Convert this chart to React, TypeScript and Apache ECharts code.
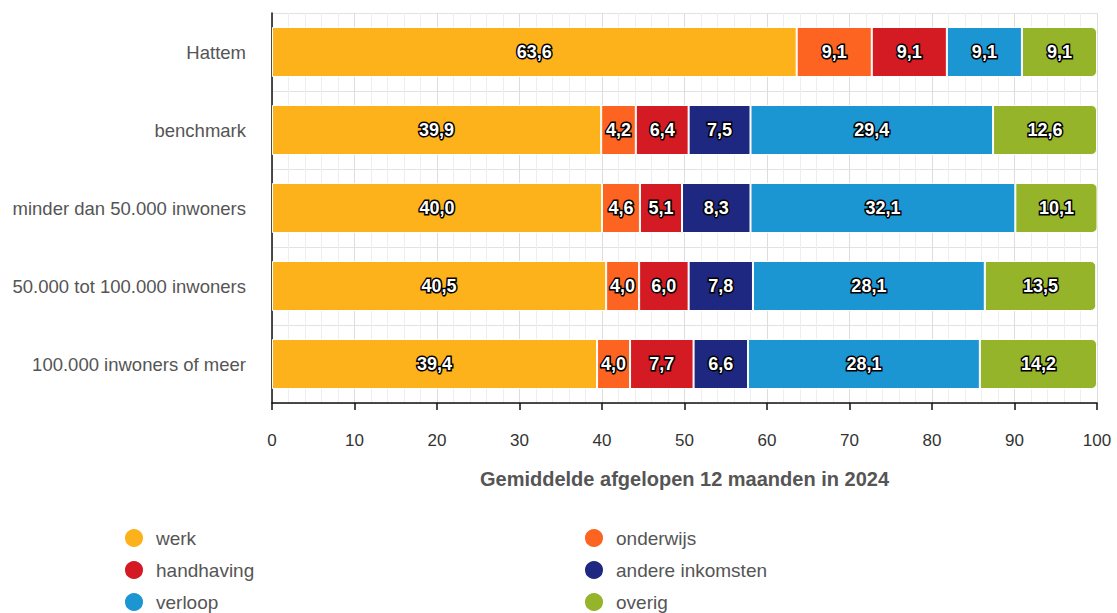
import React, { useEffect, useRef } from "react";
import * as echarts from "echarts";

const categories = [
  "Hattem",
  "benchmark",
  "minder dan 50.000 inwoners",
  "50.000 tot 100.000 inwoners",
  "100.000 inwoners of meer",
];
const werk = [63.6, 39.9, 40.0, 40.5, 39.4];
const onderwijs = [9.1, 4.2, 4.6, 4.0, 4.0];
const handhaving = [9.1, 6.4, 5.1, 6.0, 7.7];
const andereInkomsten = [null, 7.5, 8.3, 7.8, 6.6];
const verloop = [9.1, 29.4, 32.1, 28.1, 28.1];
const overig = [9.1, 12.6, 10.1, 13.5, 14.2];
const xTicks = [0, 10, 20, 30, 40, 50, 60, 70, 80, 90, 100];

const seriesDefs = [
  { name: "werk", data: werk, color: "#FDB21C" },
  { name: "onderwijs", data: onderwijs, color: "#FE6421" },
  { name: "handhaving", data: handhaving, color: "#D41A22" },
  { name: "andere inkomsten", data: andereInkomsten, color: "#1F2881" },
  { name: "verloop", data: verloop, color: "#1C96D3" },
  { name: "overig", data: overig, color: "#95B42A" },
];

export default function App() {
  const ref = useRef<HTMLDivElement>(null);
  useEffect(() => {
    if (!ref.current) return;
    const chart = echarts.init(ref.current, undefined, { renderer: "svg" });
    const font = "'Liberation Sans', Arial, sans-serif";
    const legendCommon = {
      orient: "vertical",
      top: 527,
      height: 120,
      padding: 0,
      icon: "circle",
      itemWidth: 20,
      itemHeight: 20,
      itemGap: 10,
      textStyle: { color: "#555", fontSize: 19, lineHeight: 22, fontFamily: font, padding: [0, 0, 0, 7] },
    };
    chart.setOption({
      animation: false,
      textStyle: { fontFamily: font },
      grid: { left: 272, right: 20, top: 13, bottom: 210 },
      xAxis: {
        type: "value",
        min: xTicks[0],
        max: xTicks[xTicks.length - 1],
        interval: 10,
        name: "Gemiddelde afgelopen 12 maanden in 2024",
        nameLocation: "middle",
        nameGap: 66,
        nameTextStyle: { color: "#555", fontSize: 20, fontWeight: "bold", fontFamily: font },
        axisLine: { show: true, lineStyle: { color: "#111", width: 1.5 } },
        axisTick: { show: true, length: 7, lineStyle: { color: "#111", width: 1.5 } },
        axisLabel: { color: "#333", fontSize: 17, margin: 29, fontFamily: font },
        splitLine: { show: true, lineStyle: { color: "#dddddd", width: 1 } },
        minorTick: { show: false, splitNumber: 5 },
        minorSplitLine: { show: true, lineStyle: { color: "#eeeeee", width: 1 } },
      },
      yAxis: {
        type: "category",
        data: categories,
        inverse: true,
        axisLine: { show: true, lineStyle: { color: "#111", width: 1.5 } },
        axisTick: { show: false },
        axisLabel: { color: "#555", fontSize: 18.5, margin: 26, fontFamily: font },
        splitLine: { show: true, lineStyle: { color: "#e2e2e2", width: 1 } },
      },
      legend: [
        { ...legendCommon, data: ["werk", "handhaving", "verloop"], left: 123 },
        { ...legendCommon, data: ["onderwijs", "andere inkomsten", "overig"], left: 583 },
      ],
      series: seriesDefs.map((s, i) => ({
        name: s.name,
        type: "bar",
        stack: "total",
        data: s.data,
        barWidth: 50,
        itemStyle: {
          color: s.color,
          borderColor: "#fff",
          borderWidth: 1,
          borderRadius: i === seriesDefs.length - 1 ? [0, 5, 5, 0] : 0,
        },
        label: {
          show: true,
          position: "inside",
          color: "#fff",
          fontSize: 18,
          fontWeight: "bold",
          fontFamily: font,
          textBorderColor: "#000",
          textBorderWidth: 3,
          formatter: (p: any) =>
            p.value == null ? "" : Number(p.value).toFixed(1).replace(".", ","),
        },
      })),
    });
    return () => chart.dispose();
  }, []);
  return <div ref={ref} style={{ width: 1117, height: 613, position: "absolute", left: 0, top: 0 }} />;
}
